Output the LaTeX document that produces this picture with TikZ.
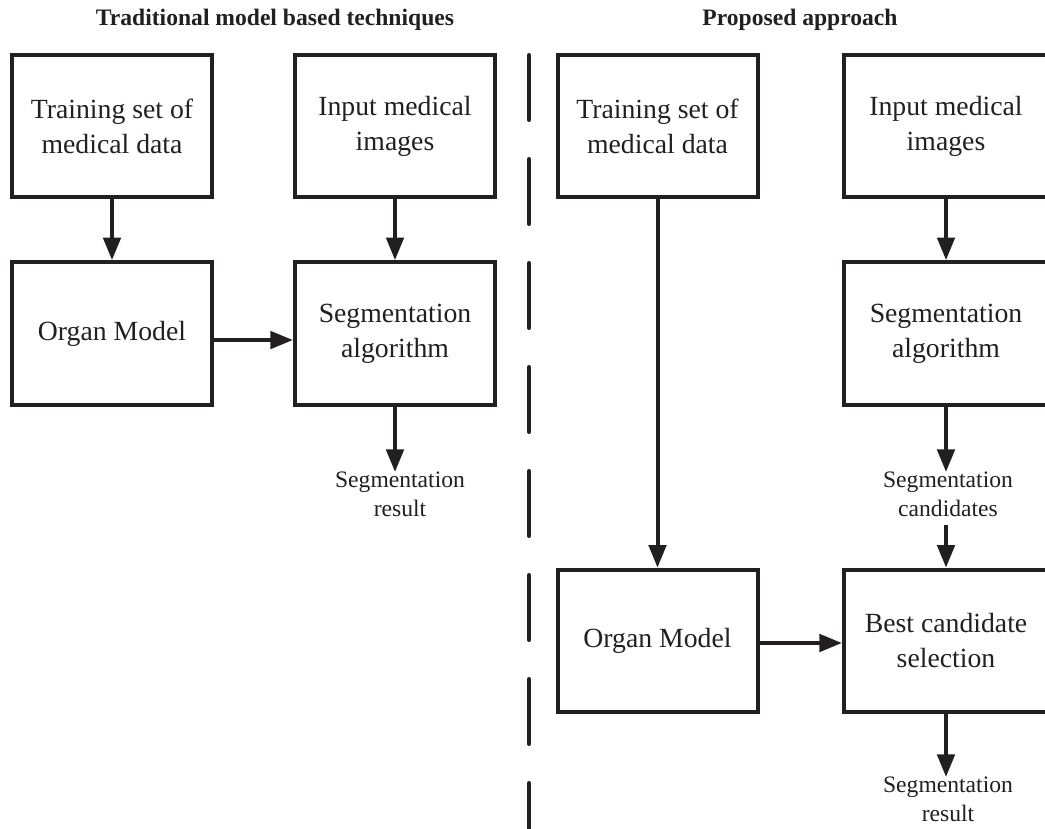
\documentclass[tikz,border=0pt]{standalone}
\usepackage{fontspec}
\setmainfont{Liberation Serif}
\usetikzlibrary{arrows.meta}
\definecolor{ink}{RGB}{35,31,32}
\begin{document}
\begin{tikzpicture}[x=0.75pt,y=-0.75pt,
  box/.style={draw=ink,line width=3pt,minimum width=150pt,minimum height=107pt,
    inner sep=0pt,align=center,text=ink,font=\fontsize{20.8}{26.25}\selectfont},
  wbox/.style={box,minimum width=153pt},
  lbl/.style={inner sep=0pt,align=center,text=ink,anchor=north,
    font=\fontsize{17.7}{21.75}\selectfont},
  ttl/.style={inner sep=0pt,anchor=base,text=ink,font=\fontsize{17.7}{21}\selectfont\bfseries},
  arr/.style={draw=ink,line width=3pt,-{Triangle[length=17pt,width=13pt]}},
  sep/.style={draw=ink,line width=3pt,line cap=round,dash pattern=on 48.75pt off 29.25pt}]
\useasboundingbox (0,0) rectangle (1045,828);

% section titles
\node[ttl] (t1) at (275,26) {Traditional model based techniques};
\node[ttl] (t2) at (800,26) {Proposed approach};

% divider between the two schemes
\coordinate (d1) at (529,55);
\coordinate (d2) at (529,840);
\draw[sep] (d1) -- (d2);

% traditional pipeline
\node[box] (a1) at (112,126) {Training set of\\medical data};
\node[box] (a2) at (395,126) {Input medical\\images};
\node[box] (a3) at (112,333.5) {Organ Model};
\node[box] (a4) at (395,333.5) {Segmentation\\algorithm};
\node[lbl] (a5) at (400,472) {Segmentation\\result};

\draw[arr] (a1.south) -- (a3.north);
\draw[arr] (a2.south) -- (a4.north);
\draw[arr] ([yshift=-4.9pt]a3.east) -- ([yshift=-4.9pt]a3.east -| a4.west);
\draw[arr] (a4.south) -- (a4.south |- a5.north);

% proposed pipeline
\node[box] (b1) at (657.5,126) {Training set of\\medical data};
\node[wbox] (b2) at (946,126) {Input medical\\images};
\node[wbox] (b3) at (946,333.5) {Segmentation\\algorithm};
\node[lbl] (b4) at (948,472) {Segmentation\\candidates};
\node[box] (b5) at (657.5,641) {Organ Model};
\node[wbox] (b6) at (946,641) {Best candidate\\selection};
\node[lbl] (b7) at (948,777) {Segmentation\\result};

\draw[arr] (b1.south) -- (b5.north);
\draw[arr] (b2.south) -- (b3.north);
\draw[arr] (b3.south) -- (b3.south |- b4.north);
\draw[arr,shorten <=6pt] (b4.south -| b6.north) -- (b6.north);
\draw[arr] ([yshift=-1.5pt]b5.east) -- ([yshift=-1.5pt]b5.east -| b6.west);
\draw[arr] (b6.south) -- (b6.south |- b7.north);
\end{tikzpicture}
\end{document}
